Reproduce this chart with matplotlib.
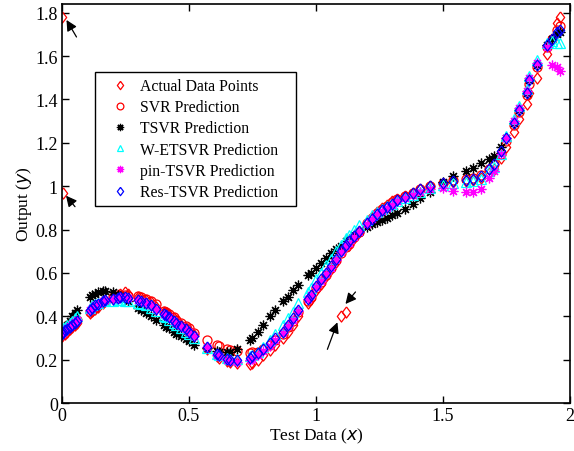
import matplotlib
matplotlib.use('Agg')
import matplotlib.pyplot as plt
from matplotlib.transforms import offset_copy

# test inputs (shared by all series)
x_test = [0.000, 0.002, 0.004, 0.01, 0.02, 0.03, 0.04, 0.05, 0.06,
          0.11, 0.12, 0.13, 0.14, 0.16, 0.17,
          0.20, 0.22, 0.23, 0.25, 0.26,
          0.30, 0.31, 0.33, 0.35, 0.37,
          0.40, 0.41, 0.42, 0.44, 0.45, 0.47, 0.49, 0.50, 0.52,
          0.57, 0.61, 0.62, 0.65, 0.66, 0.69, 0.74, 0.75,
          0.77, 0.79, 0.82, 0.84, 0.87, 0.89, 0.91, 0.93,
          0.97, 0.98, 1.00, 1.02, 1.04, 1.06, 1.08, 1.10, 1.12, 1.13, 1.15, 1.17,
          1.20, 1.22, 1.24, 1.26, 1.28, 1.30, 1.32, 1.35, 1.38, 1.41, 1.45, 1.50,
          1.54, 1.59, 1.62, 1.65, 1.68, 1.70, 1.73,
          1.75, 1.78, 1.80, 1.83, 1.84, 1.87, 1.91, 1.93, 1.95, 1.96]

y_actual = [0.31, 1.78, 0.97, 0.32, 0.33, 0.34, 0.35, 0.36, 0.37,
            0.415, 0.425, 0.435, 0.445, 0.46, 0.47,
            0.49, 0.50, 0.505, 0.51, 0.505,
            0.49, 0.485, 0.475, 0.465, 0.445,
            0.42, 0.415, 0.405, 0.39, 0.38, 0.36, 0.345, 0.335, 0.315,
            0.25, 0.215, 0.21, 0.195, 0.19, 0.185, 0.18, 0.185,
            0.20, 0.22, 0.245, 0.27, 0.30, 0.33, 0.36, 0.40,
            0.46, 0.48, 0.52, 0.55, 0.585, 0.62, 0.65, 0.40, 0.42, 0.73, 0.76, 0.79,
            0.83, 0.86, 0.88, 0.90, 0.915, 0.93, 0.94, 0.955, 0.97, 0.985, 1.00, 1.01,
            1.02, 1.025, 1.03, 1.04, 1.06, 1.08, 1.13,
            1.18, 1.25, 1.31, 1.38, 1.43, 1.50, 1.61, 1.68, 1.75, 1.78]

y_svr = [0.325, 0.33, 0.33, 0.34, 0.345, 0.355, 0.365, 0.375, 0.385,
         0.42, 0.43, 0.44, 0.45, 0.465, 0.47,
         0.49, 0.495, 0.50, 0.50, 0.495,
         0.495, 0.49, 0.48, 0.47, 0.455,
         0.425, 0.42, 0.41, 0.395, 0.385, 0.37, 0.355, 0.345, 0.325,
         0.29, 0.27, 0.265, 0.25, 0.245, 0.24, 0.23, 0.235,
         0.235, 0.25, 0.27, 0.29, 0.32, 0.35, 0.38, 0.42,
         0.47, 0.49, 0.53, 0.56, 0.59, 0.625, 0.66, 0.69, 0.72, 0.735, 0.765, 0.79,
         0.83, 0.855, 0.875, 0.895, 0.91, 0.925, 0.94, 0.955, 0.97, 0.985, 1.00, 1.015,
         1.03, 1.035, 1.04, 1.05, 1.08, 1.10, 1.15,
         1.21, 1.28, 1.34, 1.42, 1.47, 1.55, 1.64, 1.68, 1.72, 1.74]

y_tsvr = [0.33, 0.335, 0.34, 0.35, 0.36, 0.38, 0.40, 0.415, 0.43,
          0.49, 0.50, 0.505, 0.51, 0.515, 0.515,
          0.51, 0.50, 0.495, 0.48, 0.47,
          0.44, 0.43, 0.415, 0.40, 0.385,
          0.36, 0.35, 0.345, 0.33, 0.32, 0.31, 0.295, 0.285, 0.27,
          0.255, 0.24, 0.235, 0.235, 0.235, 0.25, 0.29, 0.30,
          0.33, 0.36, 0.40, 0.43, 0.47, 0.49, 0.52, 0.545,
          0.59, 0.60, 0.625, 0.645, 0.67, 0.69, 0.71, 0.725, 0.745, 0.755, 0.775, 0.79,
          0.81, 0.825, 0.835, 0.845, 0.855, 0.865, 0.875, 0.895, 0.92, 0.945, 0.975, 1.02,
          1.045, 1.07, 1.085, 1.105, 1.125, 1.14, 1.18,
          1.22, 1.29, 1.35, 1.43, 1.49, 1.56, 1.65, 1.68, 1.70, 1.71]

y_wetsvr = [0.335, 0.34, 0.345, 0.35, 0.36, 0.37, 0.38, 0.39, 0.40,
            0.44, 0.45, 0.455, 0.46, 0.47, 0.475,
            0.47, 0.475, 0.475, 0.47, 0.47,
            0.46, 0.455, 0.45, 0.44, 0.425,
            0.40, 0.395, 0.385, 0.37, 0.36, 0.345, 0.33, 0.32, 0.30,
            0.255, 0.225, 0.22, 0.21, 0.205, 0.205, 0.215, 0.22,
            0.235, 0.26, 0.29, 0.32, 0.36, 0.39, 0.42, 0.46,
            0.51, 0.53, 0.57, 0.60, 0.635, 0.665, 0.70, 0.73, 0.76, 0.775, 0.80, 0.82,
            0.845, 0.865, 0.88, 0.895, 0.91, 0.92, 0.93, 0.945, 0.96, 0.975, 0.99, 1.005,
            1.015, 1.02, 1.025, 1.035, 1.07, 1.09, 1.15,
            1.23, 1.31, 1.37, 1.45, 1.51, 1.58, 1.66, 1.67, 1.66, 1.66]

y_pintsvr = [0.32, 0.325, 0.33, 0.335, 0.345, 0.355, 0.365, 0.375, 0.385,
             0.43, 0.44, 0.45, 0.455, 0.47, 0.475,
             0.48, 0.485, 0.49, 0.49, 0.485,
             0.475, 0.47, 0.46, 0.45, 0.435,
             0.41, 0.405, 0.395, 0.38, 0.37, 0.355, 0.34, 0.33, 0.31,
             0.26, 0.22, 0.215, 0.20, 0.195, 0.19, 0.20, 0.205,
             0.22, 0.24, 0.265, 0.29, 0.325, 0.355, 0.385, 0.425,
             0.48, 0.50, 0.535, 0.565, 0.595, 0.625, 0.66, 0.695, 0.725, 0.74, 0.765, 0.79,
             0.825, 0.85, 0.87, 0.885, 0.90, 0.915, 0.93, 0.945, 0.96, 0.975, 0.985, 0.99,
             0.98, 0.975, 0.975, 0.985, 1.04, 1.07, 1.15,
             1.22, 1.30, 1.36, 1.44, 1.50, 1.57, 1.64, 1.56, 1.55, 1.53]

y_restsvr = [0.32, 0.325, 0.33, 0.335, 0.34, 0.35, 0.36, 0.37, 0.38,
             0.43, 0.44, 0.45, 0.455, 0.47, 0.475,
             0.48, 0.485, 0.487, 0.487, 0.485,
             0.475, 0.47, 0.46, 0.45, 0.435,
             0.41, 0.405, 0.395, 0.38, 0.37, 0.355, 0.34, 0.33, 0.31,
             0.26, 0.225, 0.22, 0.205, 0.20, 0.20, 0.21, 0.215,
             0.23, 0.25, 0.275, 0.30, 0.33, 0.36, 0.39, 0.43,
             0.48, 0.50, 0.54, 0.57, 0.60, 0.63, 0.665, 0.70, 0.73, 0.745, 0.77, 0.795,
             0.83, 0.85, 0.87, 0.89, 0.905, 0.92, 0.935, 0.95, 0.97, 0.985, 1.00, 1.015,
             1.025, 1.03, 1.035, 1.045, 1.08, 1.10, 1.16,
             1.22, 1.29, 1.35, 1.43, 1.49, 1.56, 1.65, 1.68, 1.71, 1.72]

plt.rcParams['font.family'] = ['Liberation Serif', 'DejaVu Serif']
plt.rcParams['mathtext.fontset'] = 'dejavusans'

fig = plt.figure(figsize=(5.74, 4.52), dpi=100)
ax = fig.add_axes([0.108, 0.106, 0.885, 0.883])

ast = (8, 2, 0)  # matlab-like asterisk
dia = [(0, 1), (0.75, 0), (0, -1), (-0.75, 0), (0, 1)]  # matlab-like diamond
ax.plot(x_test, y_actual, ls='none', marker=dia, color='red', mfc='none', ms=8, mew=0.9, label='Actual Data Points')
ax.plot(x_test, y_svr, 'o', color='red', mfc='none', ms=6.5, mew=0.9, label='SVR Prediction')
ax.plot(x_test, y_tsvr, ls='none', marker=ast, color='black', ms=7, mew=0.9, label='TSVR Prediction')
ax.plot(x_test, y_wetsvr, '^', color='cyan', mfc='none', ms=6.5, mew=0.9, label='W-ETSVR Prediction')
ax.plot(x_test, y_pintsvr, ls='none', marker=ast, color='magenta', ms=7, mew=0.9, label='pin-TSVR Prediction')
ax.plot(x_test, y_restsvr, ls='none', marker=dia, color='blue', mfc='none', ms=8, mew=0.9, label='Res-TSVR Prediction')

# arrows pointing at the outliers: (index, head offset from point, tail offset from head), in pixels
arrows = [(1, (4, -3), (10, -17)),
          (2, (3, -3), (9, -11)),
          (58, (-1, 8), (10, 12)),
          (57, (-4, -6), (-10, -27))]
for k, head, tail in arrows:
    tr = offset_copy(ax.transData, fig=fig, x=head[0], y=head[1], units='dots')
    ax.annotate('', xy=(x_test[k], y_actual[k]), xycoords=tr,
                xytext=tail, textcoords='offset pixels',
                arrowprops=dict(arrowstyle='-|>', color='black', lw=0.9,
                                mutation_scale=16, shrinkA=0, shrinkB=0))

ax.set_xlim(0, 2)
ax.set_ylim(0, 1.84)
ax.set_xticks([0, 0.5, 1, 1.5, 2])
ax.set_xticklabels(['0', '0.5', '1', '1.5', '2'])
ax.set_yticks([0, 0.2, 0.4, 0.6, 0.8, 1, 1.2, 1.4, 1.6, 1.8])
ax.set_yticklabels(['0', '0.2', '0.4', '0.6', '0.8', '1', '1.2', '1.4', '1.6', '1.8'])
ax.tick_params(direction='in', top=True, right=True, length=5, width=1, labelsize=13, pad=3)
for s in ax.spines.values():
    s.set_linewidth(1.2)
ax.set_xlabel('Test Data ($\\mathit{x}$)', fontsize=12.5, labelpad=1)
ax.set_ylabel('Output ($\\mathit{y}$)', fontsize=12.5, labelpad=1)

leg = ax.legend(loc='upper left', bbox_to_anchor=(0.065, 0.73, 0.396, 0.10), mode='expand',
                borderaxespad=0, fontsize=11.3, numpoints=1, markerscale=0.75,
                fancybox=False, framealpha=1, edgecolor='black', labelspacing=0.33,
                handletextpad=0.08, borderpad=0.4, handlelength=2.38)
leg.get_frame().set_linewidth(1.0)

fig.savefig('out.png', dpi=100)
